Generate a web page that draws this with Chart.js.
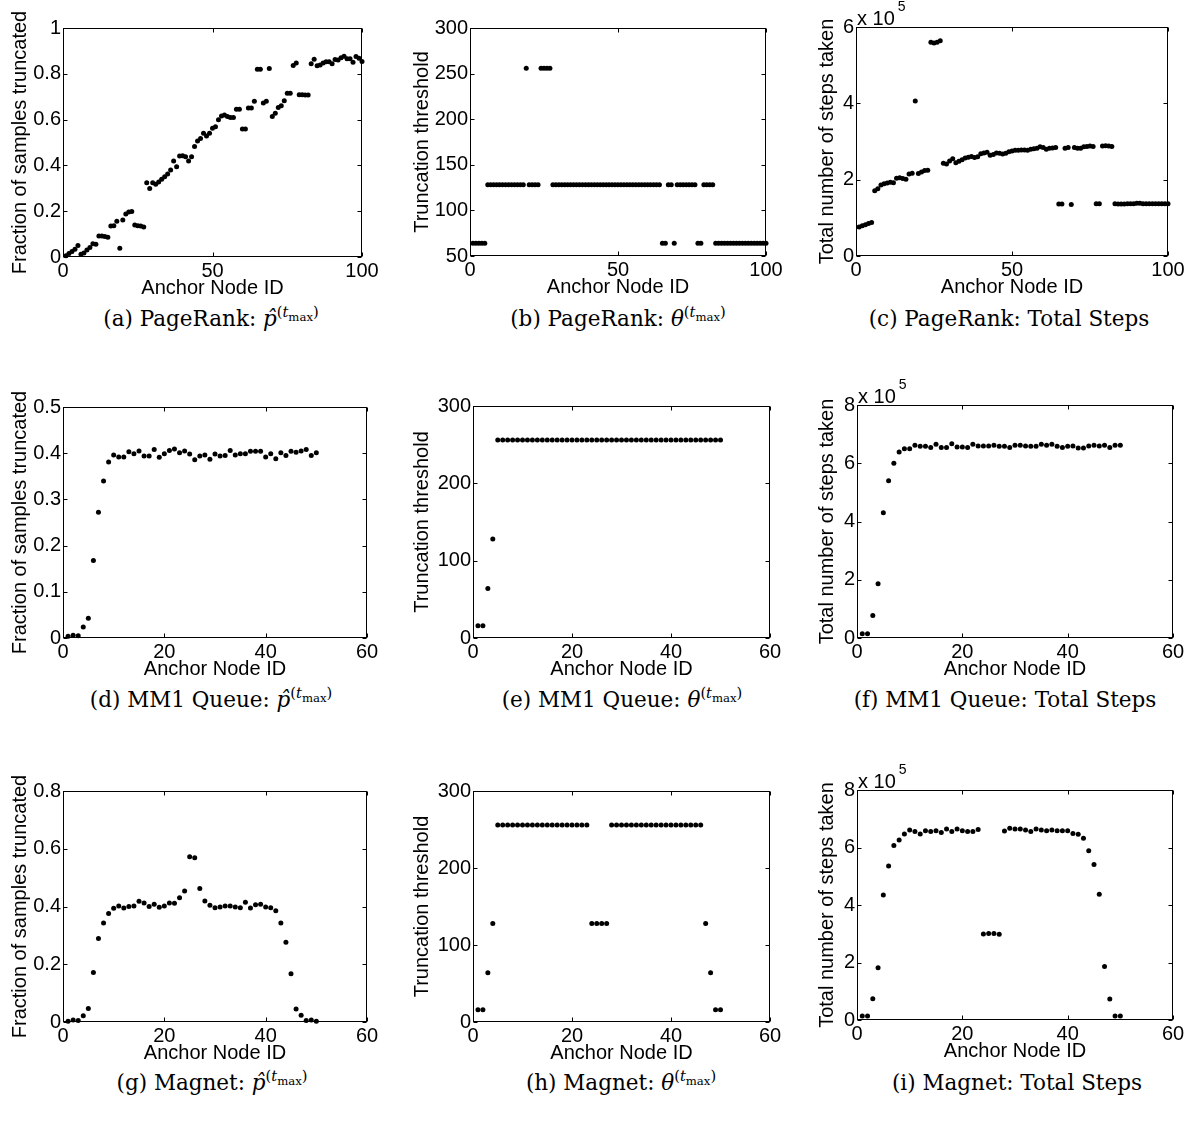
<!DOCTYPE html>
<html>
<head>
<meta charset="utf-8">
<script src="https://cdn.jsdelivr.net/npm/chart.js@4.4.1/dist/chart.umd.min.js"></script>
<style>
  body { margin: 0; background: #fff; width: 1199px; height: 1127px; position: relative; overflow: hidden; }
  canvas { position: absolute; }
  .cap { position: absolute; transform: translateX(-50%); white-space: nowrap;
         font-family: "DejaVu Serif", "Liberation Serif", serif; font-size: 21.5px; color: #000; line-height: 26px; }
  .cap sup { font-size: 68%; vertical-align: 0.6em; line-height: 0; }
  .cap sub { font-size: 80%; vertical-align: -0.3em; line-height: 0; }
</style>
</head>
<body>
<div class="cap" style="left:211px;top:306px">(a) PageRank: <i>p̂</i><sup>(<i>t</i><sub>max</sub>)</sup></div>
<div class="cap" style="left:618px;top:306px">(b) PageRank: <i>θ</i><sup>(<i>t</i><sub>max</sub>)</sup></div>
<div class="cap" style="left:1009px;top:306px">(c) PageRank: Total Steps</div>
<div class="cap" style="left:211px;top:687px">(d) MM1 Queue: <i>p̂</i><sup>(<i>t</i><sub>max</sub>)</sup></div>
<div class="cap" style="left:622px;top:687px">(e) MM1 Queue: <i>θ</i><sup>(<i>t</i><sub>max</sub>)</sup></div>
<div class="cap" style="left:1005px;top:687px">(f) MM1 Queue: Total Steps</div>
<div class="cap" style="left:212px;top:1070px">(g) Magnet: <i>p̂</i><sup>(<i>t</i><sub>max</sub>)</sup></div>
<div class="cap" style="left:621px;top:1070px">(h) Magnet: <i>θ</i><sup>(<i>t</i><sub>max</sub>)</sup></div>
<div class="cap" style="left:1017px;top:1070px">(i) Magnet: Total Steps</div>
<script>
// ---- data ----
// PageRank, anchor nodes 1..100
const prFraction = [
  0.006, 0.015, 0.024, 0.034, 0.05,
  0.012, 0.017, 0.031, 0.042, 0.058, 0.056, 0.092, 0.092, 0.089, 0.086, 0.135, 0.136, 0.156,
  0.038,
  0.162, 0.188, 0.196, 0.199,
  0.14, 0.137, 0.135, 0.131,
  0.324, 0.299, 0.324, 0.318, 0.328, 0.339, 0.35, 0.362, 0.38, 0.419, 0.394, 0.441, 0.442,
  0.438, 0.419, 0.438, 0.482, 0.507, 0.518, 0.54, 0.528, 0.54, 0.562, 0.569, 0.599, 0.616,
  0.62, 0.613, 0.609, 0.609, 0.645, 0.645, 0.559, 0.559, 0.651, 0.651, 0.68,
  0.82, 0.82,
  0.672, 0.68,
  0.823,
  0.613, 0.628, 0.653, 0.661, 0.682, 0.715, 0.715,
  0.836, 0.847,
  0.709, 0.709, 0.707, 0.707,
  0.844, 0.863, 0.835, 0.838, 0.847, 0.853, 0.853, 0.844, 0.862, 0.86, 0.87, 0.877,
  0.866, 0.866, 0.85, 0.876, 0.868, 0.854
];
const prThreshold = [
  64, 64, 64, 64, 64,
  128, 128, 128, 128, 128, 128, 128, 128, 128, 128, 128, 128, 128,
  256,
  128, 128, 128, 128,
  256, 256, 256, 256,
  128, 128, 128, 128, 128, 128, 128, 128, 128, 128, 128, 128, 128, 128, 128, 128, 128, 128, 128,
  128, 128, 128, 128, 128, 128, 128, 128, 128, 128, 128, 128, 128, 128, 128, 128, 128, 128,
  64, 64,
  128, 128,
  64,
  128, 128, 128, 128, 128, 128, 128,
  64, 64,
  128, 128, 128, 128,
  64, 64, 64, 64, 64, 64, 64, 64, 64, 64, 64, 64, 64, 64, 64, 64, 64, 64
];
// total steps, in units of 10^5
const prSteps = [
  0.76, 0.79, 0.82, 0.85, 0.88,
  1.71, 1.76, 1.86, 1.89, 1.91, 1.93, 1.92, 2.04, 2.05, 2.03, 2.01, 2.15, 2.17,
  4.06,
  2.16, 2.2, 2.24, 2.25,
  5.6, 5.58, 5.6, 5.64,
  2.43, 2.41, 2.49, 2.55, 2.44, 2.48, 2.52, 2.57, 2.59, 2.61, 2.58, 2.6, 2.68, 2.7, 2.72,
  2.64, 2.66, 2.7, 2.69, 2.67, 2.69, 2.73, 2.75, 2.77, 2.77, 2.78, 2.78, 2.77, 2.8, 2.81,
  2.82, 2.86, 2.84, 2.8, 2.82, 2.83, 2.84,
  1.36, 1.36,
  2.82, 2.84,
  1.35,
  2.84, 2.82, 2.82, 2.86, 2.87, 2.88, 2.87,
  1.37, 1.37,
  2.88, 2.89, 2.88, 2.87,
  1.37, 1.36, 1.36, 1.36, 1.37, 1.37, 1.37, 1.38, 1.38, 1.37, 1.37, 1.37, 1.37, 1.37,
  1.37, 1.37, 1.37, 1.37
];

// MM1 queue, anchor nodes 1..50
const mm1Fraction = [
  0.004, 0.006, 0.005, 0.024, 0.043, 0.168, 0.272, 0.34, 0.381, 0.396,
  0.392, 0.392, 0.403, 0.399, 0.405, 0.394, 0.394, 0.408, 0.391, 0.399,
  0.406, 0.409, 0.401, 0.405, 0.398, 0.386, 0.394, 0.396, 0.387, 0.398,
  0.394, 0.395, 0.406, 0.396, 0.399, 0.399, 0.404, 0.404, 0.404, 0.392,
  0.399, 0.388, 0.401, 0.395, 0.404, 0.402, 0.405, 0.408, 0.395, 0.401
];
const mm1Threshold = [
  16, 16, 64, 128, 256, 256, 256, 256, 256, 256,
  256, 256, 256, 256, 256, 256, 256, 256, 256, 256,
  256, 256, 256, 256, 256, 256, 256, 256, 256, 256,
  256, 256, 256, 256, 256, 256, 256, 256, 256, 256,
  256, 256, 256, 256, 256, 256, 256, 256, 256, 256
];
const mm1Steps = [
  0.15, 0.15, 0.77, 1.86, 4.3, 5.4, 6.0, 6.39, 6.5, 6.5,
  6.62, 6.58, 6.58, 6.54, 6.65, 6.54, 6.54, 6.67, 6.56, 6.56,
  6.54, 6.65, 6.59, 6.59, 6.59, 6.62, 6.58, 6.58, 6.54, 6.62,
  6.62, 6.59, 6.58, 6.58, 6.65, 6.62, 6.65, 6.58, 6.54, 6.58,
  6.59, 6.52, 6.52, 6.59, 6.62, 6.59, 6.62, 6.54, 6.62, 6.62
];

// Magnet, anchor nodes 1..50
const magFraction = [
  0.003, 0.007, 0.005, 0.022, 0.047, 0.171, 0.289, 0.343, 0.376, 0.394,
  0.402, 0.395, 0.4, 0.402, 0.418, 0.412, 0.4, 0.408, 0.397, 0.402,
  0.412, 0.411, 0.43, 0.454, 0.572, 0.569, 0.462, 0.419, 0.404, 0.396,
  0.398, 0.402, 0.402, 0.398, 0.396, 0.415, 0.395, 0.406, 0.408, 0.398,
  0.396, 0.385, 0.343, 0.276, 0.167, 0.045, 0.023, 0.005, 0.007, 0.003
];
const magThreshold = [
  16, 16, 64, 128, 256, 256, 256, 256, 256, 256,
  256, 256, 256, 256, 256, 256, 256, 256, 256, 256,
  256, 256, 256, 128, 128, 128, 128, 256, 256, 256,
  256, 256, 256, 256, 256, 256, 256, 256, 256, 256,
  256, 256, 256, 256, 256, 256, 128, 64, 16, 16
];
const magSteps = [
  0.14, 0.14, 0.74, 1.82, 4.35, 5.36, 6.07, 6.26, 6.47, 6.61,
  6.56, 6.47, 6.58, 6.56, 6.58, 6.52, 6.64, 6.56, 6.64, 6.58,
  6.56, 6.56, 6.63, 2.99, 3.01, 3.01, 2.98, 6.57, 6.67, 6.64,
  6.64, 6.61, 6.56, 6.64, 6.61, 6.58, 6.61, 6.58, 6.58, 6.58,
  6.49, 6.46, 6.32, 5.89, 5.41, 4.37, 1.86, 0.73, 0.14, 0.14
];

// axis ticks
const xTicks100 = [0, 50, 100];
const xTicks60 = [0, 20, 40, 60];
const yTicksFrac1 = [0, 0.2, 0.4, 0.6, 0.8, 1];
const yTicksFrac05 = [0, 0.1, 0.2, 0.3, 0.4, 0.5];
const yTicksFrac08 = [0, 0.2, 0.4, 0.6, 0.8];
const yTicksThrPR = [50, 100, 150, 200, 250, 300];
const yTicksThr = [0, 100, 200, 300];
const yTicksSteps6 = [0, 2, 4, 6];
const yTicksSteps8 = [0, 2, 4, 6, 8];

const xTitle = 'Anchor Node ID';
const fracTitle = 'Fraction of samples truncated';
const thrTitle = 'Truncation threshold';
const stepsTitle = 'Total number of steps taken';

// ---- drawing ----
Chart.defaults.font.family = '"Liberation Sans", Arial, sans-serif';
Chart.defaults.font.size = 20;
Chart.defaults.color = '#000';

const PAD_TOP = 30, PAD_RIGHT = 22, X_AXIS_H = 43;

// box + inward ticks on all four sides, MATLAB style
const frame = {
  id: 'frame',
  beforeDatasetsDraw(chart, args, opts) {
    const { ctx, chartArea: a, scales: { x, y } } = chart;
    ctx.save();
    ctx.strokeStyle = '#000';
    ctx.lineWidth = 1;
    const l = Math.round(a.left) + 0.5, r = Math.round(a.right) - 0.5;
    const t = Math.round(a.top) + 0.5, b = Math.round(a.bottom) - 0.5;
    ctx.strokeRect(l, t, r - l, b - t);
    ctx.beginPath();
    x.ticks.forEach(tk => {
      const px = Math.round(x.getPixelForValue(tk.value)) + 0.5;
      ctx.moveTo(px, b); ctx.lineTo(px, b - 4);
      ctx.moveTo(px, t); ctx.lineTo(px, t + 4);
    });
    y.ticks.forEach(tk => {
      const py = Math.round(y.getPixelForValue(tk.value)) + 0.5;
      ctx.moveTo(l, py); ctx.lineTo(l + 4, py);
      ctx.moveTo(r, py); ctx.lineTo(r - 4, py);
    });
    ctx.stroke();
    if (opts.exp) {
      ctx.fillStyle = '#000';
      ctx.textBaseline = 'alphabetic';
      ctx.font = '20px "Liberation Sans", Arial, sans-serif';
      ctx.fillText('x 10', a.left + 1, a.top - 2);
      const w = ctx.measureText('x 10').width;
      ctx.font = '14px "Liberation Sans", Arial, sans-serif';
      ctx.fillText(opts.exp, a.left + w + 4, a.top - 16);
    }
    ctx.restore();
  }
};

function fixTicks(list) {
  return s => { s.ticks = list.map(v => ({ value: v })); };
}
const plain = v => String(v);

function panel(p) {
  const plotW = p.box[2] - p.box[0], plotH = p.box[3] - p.box[1];
  const cv = document.createElement('canvas');
  cv.width = p.wy + plotW + PAD_RIGHT;
  cv.height = PAD_TOP + plotH + X_AXIS_H;
  cv.style.left = (p.box[0] - p.wy) + 'px';
  cv.style.top = (p.box[1] - PAD_TOP) + 'px';
  document.body.appendChild(cv);

  const pts = p.values.map((v, i) => ({ x: i + 1, y: v }));
  new Chart(cv, {
    type: 'scatter',
    data: {
      datasets: [{
        data: pts,
        pointRadius: 2.5,
        pointBackgroundColor: '#000',
        pointBorderWidth: 0,
        clip: false
      }]
    },
    options: {
      responsive: false,
      animation: false,
      devicePixelRatio: 1,
      layout: { padding: { top: PAD_TOP, right: PAD_RIGHT, left: 0, bottom: 0 } },
      plugins: { legend: { display: false }, tooltip: { enabled: false }, frame: { exp: p.exp } },
      scales: {
        x: {
          type: 'linear', min: 0, max: p.xMax,
          grid: { display: false, drawTicks: false }, border: { display: false },
          afterBuildTicks: fixTicks(p.xTicks),
          ticks: { padding: 2, maxRotation: 0, autoSkip: false, callback: plain },
          title: { display: true, text: xTitle, padding: 0 },
          afterFit(s) {
            s.height = X_AXIS_H;
            s.paddingLeft = s.paddingRight = s.paddingTop = s.paddingBottom = 0;
          }
        },
        y: {
          type: 'linear', min: p.yMin, max: p.yMax,
          grid: { display: false, drawTicks: false }, border: { display: false },
          afterBuildTicks: fixTicks(p.yTicks),
          ticks: { padding: 2, autoSkip: false, callback: plain },
          title: { display: true, text: p.yTitle, padding: 0 },
          afterFit(s) {
            s.width = p.wy;
            s.paddingLeft = s.paddingRight = s.paddingTop = s.paddingBottom = 0;
          }
        }
      }
    },
    plugins: [frame]
  });
}

panel({ box: [63, 28, 362, 257], wy: 55, values: prFraction, xMax: 100, xTicks: xTicks100,
        yMin: 0, yMax: 1, yTicks: yTicksFrac1, yTitle: fracTitle });
panel({ box: [470, 28, 766, 256], wy: 60, values: prThreshold, xMax: 100, xTicks: xTicks100,
        yMin: 50, yMax: 300, yTicks: yTicksThrPR, yTitle: thrTitle });
panel({ box: [856, 27, 1168, 256], wy: 41, values: prSteps, xMax: 100, xTicks: xTicks100,
        yMin: 0, yMax: 6, yTicks: yTicksSteps6, yTitle: stepsTitle, exp: '5' });

panel({ box: [63, 407, 367, 638], wy: 55, values: mm1Fraction, xMax: 60, xTicks: xTicks60,
        yMin: 0, yMax: 0.5, yTicks: yTicksFrac05, yTitle: fracTitle });
panel({ box: [473, 406, 770, 638], wy: 63, values: mm1Threshold, xMax: 60, xTicks: xTicks60,
        yMin: 0, yMax: 300, yTicks: yTicksThr, yTitle: thrTitle });
panel({ box: [857, 405, 1173, 638], wy: 42, values: mm1Steps, xMax: 60, xTicks: xTicks60,
        yMin: 0, yMax: 8, yTicks: yTicksSteps8, yTitle: stepsTitle, exp: '5' });

panel({ box: [63, 791, 367, 1022], wy: 55, values: magFraction, xMax: 60, xTicks: xTicks60,
        yMin: 0, yMax: 0.8, yTicks: yTicksFrac08, yTitle: fracTitle });
panel({ box: [473, 791, 770, 1022], wy: 63, values: magThreshold, xMax: 60, xTicks: xTicks60,
        yMin: 0, yMax: 300, yTicks: yTicksThr, yTitle: thrTitle });
panel({ box: [857, 790, 1173, 1020], wy: 42, values: magSteps, xMax: 60, xTicks: xTicks60,
        yMin: 0, yMax: 8, yTicks: yTicksSteps8, yTitle: stepsTitle, exp: '5' });
</script>
</body>
</html>
